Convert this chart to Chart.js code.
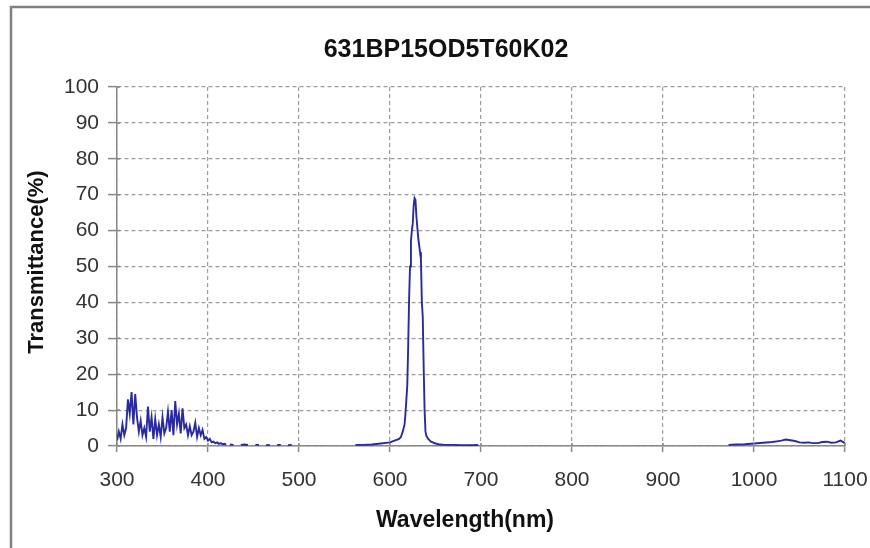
<!DOCTYPE html>
<html>
<head>
<meta charset="utf-8">
<script src="https://cdn.jsdelivr.net/npm/chart.js@4.4.0/dist/chart.umd.min.js"></script>
<style>
html,body{margin:0;padding:0;background:#fff;}
#wrap{width:870px;height:548px;position:relative;}
</style>
</head>
<body>
<div id="wrap"><canvas id="c" width="870" height="548"></canvas></div>
<script>
const chartTitle = "631BP15OD5T60K02";
const xTitle = "Wavelength(nm)";
const yTitle = "Transmittance(%)";
const xTicks = [300,400,500,600,700,800,900,1000,1100];
const yTicks = [0,10,20,30,40,50,60,70,80,90,100];

// UV noise region
const wlUV = [300,302,304,306,308,310,312,314,316,318,320,322,324,326,328,330,332,334,336,338,340,342,344,346,348,350,352,354,356,358,360,362,364,366,368,370,372,374,376,378,380,382,384,386,388,390,392,394,396,398,400,402,404,406,408,410,412,414,416,418,420];
const trUV = [1.5,4,2,6,3,5,13,9,15,6,14.5,8,4,7,3,5,2.5,11,4,8,2,7.5,3,6,2.5,8,3.5,5,9.5,4,10,3,12.5,6,9,3.5,10.5,5,6,3,5.5,3,4,6.5,2.5,5,3,4.5,2,2.5,1.5,2,1,1.2,0.8,1,0.6,0.8,0.5,0.6,0.4];
// sparse tail
const wlTail = [424,428,432,436,440,444,448,452,456,460,464,468,472,476,480,484,488,492];
const trTail = [0.4,0.3,null,0.3,0.4,0.3,null,0.3,0.3,null,0.3,0.2,null,0.3,0.3,null,0.2,0.3];
// pass band
const wlBand = [562,570,580,590,600,605,610,612,614,616,617,618,619,620,621,622,623,624,625,626,627,628,629,630,631,632,633,634,635,636,637,638,639,640,642,645,650,655,660,670,680,690,697];
const trBand = [0.3,0.3,0.4,0.7,1.0,1.5,2,2.5,4,6,9,13,17,28,41,50,57,60,62,67,69,68.5,64,61,58,56,54,52,40,36,22,10,4,2.8,2,1.2,0.7,0.4,0.3,0.3,0.2,0.2,0.3];
// NIR
const wlNIR = [972,980,990,1000,1010,1020,1025,1030,1035,1040,1045,1050,1055,1060,1065,1070,1075,1080,1085,1090,1095,1100];
const trNIR = [0.3,0.4,0.5,0.7,0.9,1.1,1.3,1.5,1.8,1.6,1.4,1.0,0.9,1.0,0.8,0.8,1.1,1.2,0.9,1.0,1.5,0.8];

function pts(w,t){return w.map((x,i)=>({x:x,y:t[i]}));}
const data = [].concat(pts(wlUV,trUV), [{x:422,y:null}], pts(wlTail,trTail), [{x:530,y:null}], pts(wlBand,trBand), [{x:800,y:null}], pts(wlNIR,trNIR));

const fam = "'Liberation Sans',Arial,sans-serif";
const tickFont = {family:fam, size:21};

const deco = {
  id:'deco',
  beforeDraw(chart){
    const ctx=chart.ctx;
    ctx.save();
    ctx.fillStyle='#fff';ctx.fillRect(0,0,chart.width,chart.height);
    ctx.strokeStyle='#808080';ctx.lineWidth=2.5;
    ctx.beginPath();ctx.moveTo(11,548);ctx.lineTo(11,7);ctx.lineTo(870,7);ctx.stroke();
    ctx.restore();
  },
  afterDraw(chart){
    const ctx=chart.ctx, xs=chart.scales.x, ys=chart.scales.y, a=chart.chartArea;
    ctx.save();
    ctx.strokeStyle='#888';ctx.lineWidth=1.5;
    ctx.beginPath();
    yTicks.forEach(v=>{const y=ys.getPixelForValue(v);ctx.moveTo(a.left,y);ctx.lineTo(a.left+3,y);});
    xTicks.forEach(v=>{const x=xs.getPixelForValue(v);ctx.moveTo(x,a.bottom);ctx.lineTo(x,a.bottom-3);});
    ctx.stroke();
    ctx.fillStyle='#111';ctx.textAlign='center';ctx.textBaseline='middle';
    ctx.font="bold 25px "+fam;
    ctx.fillText(chartTitle,446,50);
    ctx.font="bold 23px "+fam;
    ctx.fillText(xTitle,465,521);
    ctx.translate(37,262);ctx.rotate(-Math.PI/2);
    ctx.font="bold 22px "+fam;
    ctx.fillText(yTitle,0,0);
    ctx.restore();
  }
};

new Chart(document.getElementById('c'),{
  type:'line',
  data:{datasets:[{data:data,borderColor:'#2a2aa0',borderWidth:1.9,pointRadius:0,fill:false,spanGaps:false,tension:0}]},
  options:{
    responsive:false,animation:false,
    layout:{padding:{left:10,right:25,top:87,bottom:0}},
    plugins:{legend:{display:false},tooltip:{enabled:false},title:{display:false}},
    scales:{
      x:{type:'linear',min:300,max:1100,
        afterFit(s){s.height=102;s.paddingRight=0;s.paddingLeft=0;},
        afterBuildTicks(s){s.ticks=xTicks.map(v=>({value:v}));},
        ticks:{font:tickFont,color:'#333',padding:16,maxRotation:0,autoSkip:false,callback:v=>String(v)},
        grid:{color:'#9c9c9c',lineWidth:1.2,tickLength:6,tickColor:'#888',tickWidth:1.5,tickBorderDash:[]},
        border:{display:true,color:'#888',width:1.5,dash:[4,3]}
      },
      y:{min:0,max:100,
        afterFit(s){s.width=107;s.paddingTop=0;s.paddingBottom=0;},
        afterBuildTicks(s){s.ticks=yTicks.map(v=>({value:v}));},
        ticks:{font:tickFont,color:'#333',padding:9,autoSkip:false,callback:v=>String(v)},
        grid:{color:'#9c9c9c',lineWidth:1.2,tickLength:9,tickColor:'#888',tickWidth:1.5,tickBorderDash:[]},
        border:{display:true,color:'#888',width:1.5,dash:[4,3]}
      }
    }
  },
  plugins:[deco]
});
</script>
</body>
</html>
